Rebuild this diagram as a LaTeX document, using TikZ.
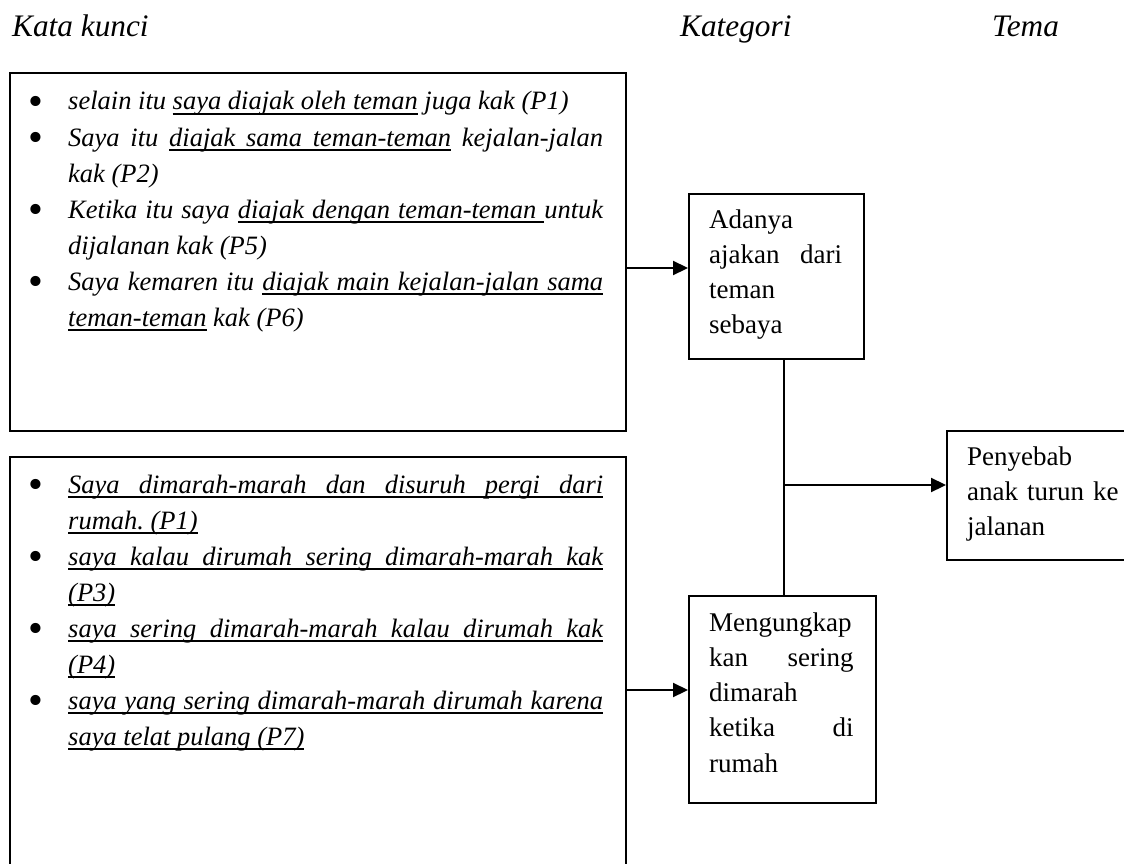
\documentclass[tikz,border=0pt]{standalone}
\usepackage{fontspec}
\usepackage{graphicx}
\setmainfont{Liberation Serif}
\usetikzlibrary{arrows.meta}
\makeatletter
\newcommand{\ulword}[1]{\setbox0\hbox{#1}\rlap{\vrule height -2.6pt depth 4.6pt width \wd0}\box0}
\newcommand{\ulspace}{\leaders\hrule height -2.6pt depth 4.6pt\hskip\fontdimen2\font plus\fontdimen3\font minus\fontdimen4\font\relax}
\newcommand{\myul}[1]{\leavevmode\myul@b#1 \myul@stop}
\def\myul@b#1 #2\myul@stop{%
  \ulword{#1}%
  \if\relax\detokenize{#2}\relax\else\ulspace\myul@b#2\myul@stop\fi}
\makeatother
\newcommand{\bul}{\leavevmode\llap{\upshape\raisebox{-5.3pt}{\scalebox{1.6}{\textbullet}}\hspace{25.1pt}}}
\newcommand{\nobrk}{\hyphenpenalty=10000 \exhyphenpenalty=10000 \tolerance=10000 \hbadness=10000 }
\begin{document}
\begin{tikzpicture}[x=1pt,y=-1pt]
\tikzset{
  box/.style={draw, line width=2.2pt, rectangle, inner sep=0pt, anchor=north west},
  conn/.style={line width=2.2pt},
  arr/.style={conn, -{Triangle[length=15pt,width=14pt]}},
  hdr/.style={inner sep=0pt, anchor=base west, font=\fontsize{31.3}{36}\selectfont\itshape},
  quotetext/.style={inner sep=0pt, anchor=base west, text width=535pt, align=justify,
    font=\fontsize{26.5}{36.1}\selectfont\itshape},
  cattext/.style={inner sep=0pt, anchor=base west, align=left,
    font=\fontsize{27}{35.3}\selectfont},
}
\useasboundingbox (0,0) rectangle (1124,864);

% headers
\node[hdr] (hk) at (12,37) {Kata kunci};
\node[hdr] (hc) at (680,37) {Kategori};
\node[hdr] (ht) at (992,37) {Tema};

% boxes
\node[box, minimum width=616pt, minimum height=358pt] (k1) at (8.5,72) {};
\node[box, minimum width=616pt, minimum height=414pt] (k2) at (8.5,456) {};
\node[box, minimum width=175pt, minimum height=165pt] (c1) at (688,193) {};
\node[box, minimum width=187pt, minimum height=207pt] (c2) at (688,595) {};
\node[box, minimum width=182pt, minimum height=129pt] (t1) at (946,430) {};

% texts in left boxes
\node[quotetext] (q1) at (68,110) {\nobrk
\bul selain itu \myul{saya diajak oleh teman}\ juga kak (P1)\par
\bul Saya itu \myul{diajak sama teman-teman}\ kejalan-jalan\linebreak kak (P2)\par
\bul Ketika itu saya \myul{diajak dengan teman-teman}\ulspace untuk\linebreak dijalanan kak (P5)\par
\bul Saya kemaren itu \myul{diajak main kejalan-jalan sama}\linebreak\myul{teman-teman}\ kak (P6)};

\node[quotetext] (q2) at (68,493) {\nobrk
\bul \myul{Saya dimarah-marah dan disuruh pergi dari}\linebreak\myul{rumah. (P1)}\par
\bul \myul{saya kalau dirumah sering dimarah-marah kak}\linebreak\myul{(P3)}\par
\bul \myul{saya sering dimarah-marah kalau dirumah kak}\linebreak\myul{(P4)}\par
\bul \myul{saya yang sering dimarah-marah dirumah karena}\linebreak\myul{saya telat pulang (P7)}};

% texts in category / theme boxes
\node[cattext, text width=133pt] (c1t) at (709,228) {Adanya\\ajakan\hfill dari\\teman\\sebaya};
\node[cattext, text width=144.5pt] (c2t) at (709,631) {Mengungkap\\kan\hfill sering\\dimarah\\ketika\hfill di\\rumah};
\node[cattext, text width=152pt] (t1t) at (967,465) {Penyebab\\anak turun ke\\jalanan};

% connectors
\coordinate (ya) at (0,268);
\coordinate (yb) at (0,690);
\coordinate (vx) at (784,485);
\draw[arr] (k1.east |- ya) -- (c1.west |- ya);
\draw[arr] (k2.east |- yb) -- (c2.west |- yb);
\draw[conn] (c1.south -| vx) -- (c2.north -| vx);
\draw[arr] (vx) -- (t1.west |- vx);
\end{tikzpicture}
\end{document}
